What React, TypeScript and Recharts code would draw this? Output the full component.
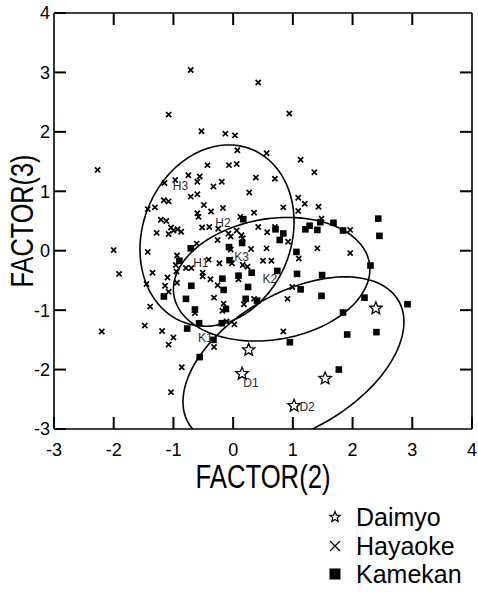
import React from 'react';
import { ScatterChart, Scatter, XAxis, YAxis, ReferenceLine } from 'recharts';

const FONT = '"Liberation Sans", Arial, Helvetica, sans-serif';

const AXIS_TICKS = [-3, -2, -1, 0, 1, 2, 3, 4];
const AXIS_MIN = -3;
const AXIS_MAX = 4;
const SERIES_NAMES = ['Daimyo', 'Hayaoke', 'Kamekan'];

// FACTOR(2), FACTOR(3) scores
const daimyo: [number, number][] = [
  [2.39, -0.97], [0.26, -1.67], [0.15, -2.07], [1.54, -2.15], [1.02, -2.61],
];

const hayaoke: [number, number][] = [
  [-0.71, 3.04], [0.42, 2.83], [-1.08, 2.29], [0.94, 2.31], [-0.53, 2.01], [-0.13, 1.97],
  [0.03, 1.94], [0.07, 1.69], [0.56, 1.64], [-2.27, 1.36], [1.13, 1.53], [1.36, 1.32],
  [-0.43, 1.44], [-0.07, 1.44], [0.06, 1.46], [-0.75, 1.27], [-0.56, 1.25], [-0.6, 1.16],
  [-0.19, 1.16], [0.38, 1.23], [0.7, 1.21], [-1.15, 1.14], [-0.97, 1.19], [-0.33, 1.08],
  [-0.6, 0.95], [0.27, 0.98], [-0.71, 0.91], [1.09, 0.89], [1.2, 0.79], [-1.16, 0.85],
  [-1.08, 0.83], [-0.49, 0.77], [1.43, 0.74], [0.84, 0.73], [-0.17, 0.72], [-1.43, 0.7],
  [-1.31, 0.73], [-0.37, 0.66], [1.09, 0.67], [-0.6, 0.63], [-0.58, 0.57], [0.35, 0.64],
  [0.12, 0.57], [1.48, 0.54], [-1.21, 0.52], [-1.12, 0.5], [-0.52, 0.39], [-0.4, 0.4],
  [-0.25, 0.37], [0.42, 0.4], [0.7, 0.4], [-1.04, 0.39], [-1.0, 0.34], [-0.93, 0.36],
  [-0.87, 0.32], [-1.28, 0.3], [-1.08, 0.28], [1.96, 0.35], [-0.08, 0.29], [-0.04, 0.24],
  [0.06, 0.34], [0.14, 0.26], [0.57, 0.31], [0.16, 0.21], [-0.26, 0.18], [0.92, 0.15],
  [-0.61, 0.12], [0.3, 0.03], [0.56, 0.04], [1.41, 0.04], [-2.0, 0.01], [-1.43, -0.02],
  [-0.04, 0.02], [-0.94, -0.08], [1.96, -0.04], [1.1, -0.13], [-0.23, -0.21], [-0.41, -0.15],
  [-0.05, -0.15], [-0.02, -0.21], [0.16, -0.24], [0.24, -0.27], [0.5, -0.17], [0.64, -0.17],
  [-0.96, -0.24], [-0.79, -0.29], [-0.7, -0.29], [-1.91, -0.39], [-1.35, -0.37], [-0.51, -0.37],
  [-0.95, -0.35], [-0.51, -0.43], [-0.38, -0.48], [-1.1, -0.45], [0.09, -0.48], [-1.45, -0.56],
  [-1.14, -0.59], [-0.94, -0.54], [-0.26, -0.58], [0.99, -0.61], [-1.08, -0.69], [-0.32, -0.79],
  [0.91, -0.81], [-0.16, -0.89], [0.18, -0.9], [0.35, -0.81], [-1.39, -0.94], [-0.64, -1.05],
  [-0.18, -1.01], [-0.11, -1.19], [0.02, -1.24], [-1.48, -1.26], [-2.2, -1.36], [-1.19, -1.35],
  [0.84, -1.36], [-1.0, -1.46], [-1.08, -1.58], [-0.32, -1.62], [-0.86, -1.96], [-1.04, -2.38],
];

const kamekan: [number, number][] = [
  [2.43, 0.54], [2.45, 0.25], [0.17, 0.53], [1.21, 0.36], [1.28, 0.42], [1.41, 0.35],
  [1.46, 0.48], [1.68, 0.47], [1.84, 0.34], [0.71, 0.36], [0.84, 0.29], [0.78, 0.18],
  [0.15, 0.13], [-0.71, 0.04], [-0.07, 0.06], [1.06, -0.02], [-0.06, -0.16], [-0.9, -0.17],
  [2.3, -0.25], [0.74, -0.34], [0.31, -0.37], [0.09, -0.42], [1.07, -0.39], [1.49, -0.41],
  [-0.18, -0.47], [-0.7, -0.59], [0.25, -0.61], [-0.16, -0.66], [1.13, -0.65], [1.48, -0.76],
  [2.2, -0.79], [-1.16, -0.77], [-0.79, -0.81], [0.21, -0.81], [0.4, -0.84], [2.92, -0.9],
  [-0.64, -0.99], [-0.12, -0.98], [1.84, -1.04], [-0.57, -1.22], [-0.19, -1.22], [-0.77, -1.31],
  [2.4, -1.37], [1.91, -1.41], [0.95, -1.54], [-0.33, -1.5], [-0.56, -1.79], [1.77, -2.0],
];

// point labels (text anchor in data units)
const pointLabels: [string, number, number][] = [
  ['H3', -1.01, 1.09], ['H2', -0.3, 0.47], ['H1', -0.67, -0.21], ['K3', 0.02, -0.11],
  ['K2', 0.49, -0.48], ['K1', -0.59, -1.47], ['D1', 0.17, -2.23], ['D2', 1.11, -2.63],
];

// group ellipses: centre, x half-extent, y half-extent, cross term
const ellipseH = { cx: -0.27, cy: 0.255, sx: 1.29, sy: 1.525, sxy: 0.3 };
const ellipseK = { cx: 0.645, cy: -0.48, sx: 1.645, sy: 1.04, sxy: 0.28 };
const ellipseD = { cx: 1.01, cy: -1.87, sx: 1.85, sy: 1.43, sxy: 1.24 };

const toPts = (arr: [number, number][]) => arr.map(([x, y]) => ({ x, y }));

const ellipsePoints = (e: typeof ellipseH) => {
  const k = e.sxy / e.sx;
  const m = Math.sqrt(e.sy * e.sy - k * k);
  return Array.from({ length: 181 }, (_, i) => {
    const t = (i / 180) * Math.PI * 2;
    return { x: e.cx + e.sx * Math.cos(t), y: e.cy + k * Math.cos(t) + m * Math.sin(t) };
  });
};

// tick positions on the top and right frame edges (inner ticks only)
const innerTicks = AXIS_TICKS.slice(1, -1);
const topTicks = innerTicks.map((t) => ({ x: t, y: AXIS_MAX }));
const rightTicks = innerTicks.map((t) => ({ x: AXIS_MAX, y: t }));

const starPath = (cx: number, cy: number, R: number, r: number) => {
  let d = '';
  for (let i = 0; i < 10; i++) {
    const a = -Math.PI / 2 + (i * Math.PI) / 5;
    const rad = i % 2 === 0 ? R : r;
    d += (i === 0 ? 'M' : 'L') + (cx + rad * Math.cos(a)).toFixed(2) + ',' + (cy + rad * Math.sin(a)).toFixed(2);
  }
  return d + 'Z';
};

const crossPath = (cx: number, cy: number, h: number) =>
  `M${cx - h},${cy - h}L${cx + h},${cy + h}M${cx - h},${cy + h}L${cx + h},${cy - h}`;

const StarShape = (p: any) => (
  <path d={starPath(p.cx, p.cy, 6.5, 2.9)} fill="#fff" stroke="#000" strokeWidth={1.3} />
);
const CrossShape = (p: any) => (
  <path d={crossPath(p.cx, p.cy, 2.6)} stroke="#000" strokeWidth={1.7} fill="none" />
);
const SquareShape = (p: any) => <rect x={p.cx - 3.3} y={p.cy - 3.3} width={6.6} height={6.6} fill="#000" />;
const NoShape = () => <g />;
const LabelShape = (p: any) => (
  <text x={p.cx} y={p.cy} dominantBaseline="central" fontSize={12} fontFamily={FONT} fill="#2a2a2a">
    {p.payload.name}
  </text>
);

const TICK_LEN = 12;
const TICK_W = 2;
const TopMark = (p: any) => (
  <path d={`M${p.cx - TICK_W / 2},${p.cy}h${TICK_W}v${TICK_LEN}h${-TICK_W}Z`} fill="#000" stroke="none" />
);
const RightMark = (p: any) => (
  <path d={`M${p.cx},${p.cy - TICK_W / 2}v${TICK_W}h${-TICK_LEN}v${-TICK_W}Z`} fill="#000" stroke="none" />
);

const tickText = { fill: '#000', fontSize: 18, fontFamily: FONT };
const BottomTick = (p: any) => (
  <text x={p.x} y={p.y + 14} dy="0.71em" textAnchor="middle" {...tickText}>{String(p.payload.value)}</text>
);
const LeftTick = (p: any) => (
  <text x={p.x - 4} y={p.y} dy="0.36em" textAnchor="end" {...tickText}>{String(p.payload.value)}</text>
);

const legendIcon = (name: string) => {
  if (name === 'Daimyo') return <path d={starPath(10, 10, 5.5, 2.4)} fill="#fff" stroke="#000" strokeWidth={1.2} />;
  if (name === 'Hayaoke') return <path d={crossPath(10, 10, 5)} stroke="#000" strokeWidth={1.2} />;
  return <rect x={4.5} y={4.5} width={11} height={11} fill="#000" />;
};

const LegendBox = () => (
  <div style={{ position: 'absolute', left: 325, top: 503, fontFamily: FONT, fontSize: 25, color: '#000' }}>
    {SERIES_NAMES.map((name) => (
      <div key={name} style={{ display: 'flex', alignItems: 'center', height: 28.5, lineHeight: '28.5px' }}>
        <svg width={20} height={20} style={{ marginRight: 11 }}>{legendIcon(name)}</svg>
        <span>{name}</span>
      </div>
    ))}
  </div>
);

const XTitle = (props: any) => {
  const { x, y, width } = props.viewBox;
  return (
    <text x={x + width / 2} y={y + 59} textAnchor="middle" fontSize={33} fontFamily={FONT} fill="#000"
      textLength={135} lengthAdjust="spacingAndGlyphs">FACTOR(2)</text>
  );
};

const YTitle = (props: any) => {
  const { y, height } = props.viewBox;
  const cy = y + height / 2;
  return (
    <text x={33} y={cy} transform={`rotate(-90, 33, ${cy})`} textAnchor="middle" fontSize={32} fontFamily={FONT}
      fill="#000" textLength={133} lengthAdjust="spacingAndGlyphs">FACTOR(3)</text>
  );
};

const axisLine = { stroke: '#000', strokeWidth: 1.6 };

export default function App() {
  return (
    <div style={{ position: 'absolute', left: 0, top: 0, width: 478, height: 592, background: '#fff' }}>
      <ScatterChart width={478} height={592} margin={{ top: 13, right: 6, bottom: 0, left: 0 }}>
        <XAxis type="number" dataKey="x" domain={[AXIS_MIN, AXIS_MAX]} ticks={AXIS_TICKS} interval={0} allowDataOverflow
          height={163} tickSize={-TICK_LEN} tickMargin={TICK_LEN} axisLine={axisLine}
          tickLine={{ stroke: '#000', strokeWidth: TICK_W }} tick={BottomTick} label={<XTitle />} />
        <YAxis type="number" dataKey="y" domain={[AXIS_MIN, AXIS_MAX]} ticks={AXIS_TICKS} interval={0} allowDataOverflow
          width={54} tickSize={-TICK_LEN} tickMargin={TICK_LEN} axisLine={axisLine}
          tickLine={{ stroke: '#000', strokeWidth: TICK_W }} tick={LeftTick} label={<YTitle />} />

        <ReferenceLine x={AXIS_MAX} stroke="#000" strokeWidth={1.6} />
        <ReferenceLine y={AXIS_MAX} stroke="#000" strokeWidth={1.6} />

        <Scatter data={ellipsePoints(ellipseH)} line={{ stroke: '#000', strokeWidth: 1.6 }} lineType="joint"
          shape={NoShape} fill="none" isAnimationActive={false} />
        <Scatter data={ellipsePoints(ellipseK)} line={{ stroke: '#000', strokeWidth: 1.6 }} lineType="joint"
          shape={NoShape} fill="none" isAnimationActive={false} />
        <Scatter data={ellipsePoints(ellipseD)} line={{ stroke: '#000', strokeWidth: 1.6 }} lineType="joint"
          shape={NoShape} fill="none" isAnimationActive={false} />

        <Scatter name="Hayaoke" data={toPts(hayaoke)} shape={CrossShape} isAnimationActive={false} />
        <Scatter name="Kamekan" data={toPts(kamekan)} shape={SquareShape} isAnimationActive={false} />
        <Scatter name="Daimyo" data={toPts(daimyo)} shape={StarShape} isAnimationActive={false} />
        <Scatter data={pointLabels.map(([name, x, y]) => ({ name, x, y }))} shape={LabelShape}
          isAnimationActive={false} />

        <Scatter data={topTicks} shape={TopMark} isAnimationActive={false} />
        <Scatter data={rightTicks} shape={RightMark} isAnimationActive={false} />
      </ScatterChart>
      <LegendBox />
    </div>
  );
}
